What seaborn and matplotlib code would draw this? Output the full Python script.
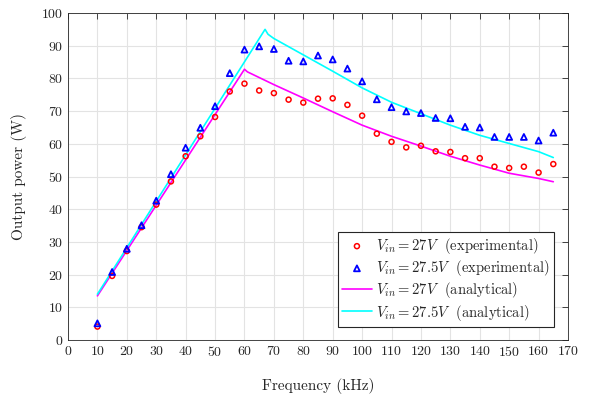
import matplotlib
matplotlib.use("Agg")
import matplotlib.pyplot as plt
import numpy as np
import pandas as pd
import seaborn as sns

freq_exp = [10, 15, 20, 25, 30, 35, 40, 45, 50, 55, 60, 65, 70, 75, 80, 85, 90,
            95, 100, 105, 110, 115, 120, 125, 130, 135, 140, 145, 150, 155, 160, 165]
p27_exp = [4.1, 19.6, 27.2, 34.5, 41.4, 48.5, 56.2, 62.3, 68.2, 76.0, 78.4, 76.3,
           75.5, 73.5, 72.6, 73.8, 73.9, 71.9, 68.6, 63.1, 60.6, 58.9, 59.4, 57.7,
           57.5, 55.6, 55.6, 53.0, 52.6, 53.0, 51.2, 53.8]
p275_exp = [5.1, 20.8, 27.9, 35.1, 42.6, 50.7, 58.8, 64.9, 71.5, 81.6, 88.8, 89.8,
            89.0, 85.4, 85.2, 87.0, 85.8, 83.0, 79.1, 73.6, 71.2, 69.9, 69.4, 67.9,
            67.8, 65.2, 65.0, 62.1, 62.1, 62.1, 61.0, 63.4]

# 해석 결과 곡선
freq_a27 = [10, 60, 61, 70, 80, 90, 100, 110, 120, 130, 140, 150, 160, 165]
p27_ana = [13.5, 82.8, 82.0, 78.1, 74.0, 69.8, 65.7, 62.3, 59.3, 56.2, 53.5,
           51.0, 49.4, 48.4]
freq_a275 = [10, 67, 68, 70, 80, 90, 100, 110, 120, 130, 140, 150, 160, 165]
p275_ana = [14.0, 95.0, 93.5, 92.2, 87.2, 82.2, 77.1, 72.7, 69.2, 65.7, 62.6,
            60.1, 57.6, 55.8]

sns.set_style("white")
plt.rcParams["font.family"] = ["cmr10", "DejaVu Serif"]
plt.rcParams["mathtext.fontset"] = "cm"
plt.rcParams["axes.formatter.use_mathtext"] = True
plt.rcParams["xtick.direction"] = "in"
plt.rcParams["ytick.direction"] = "in"

fig = plt.figure(figsize=(5.93, 3.99), dpi=100)
ax = fig.add_axes([68 / 593, 1 - 340 / 399, 500 / 593, 327 / 399])

ax.grid(True, color="#e3e3e3", linewidth=0.8)
ax.set_axisbelow(True)

sns.scatterplot(x=freq_exp, y=p27_exp, ax=ax, marker="o", s=13,
                facecolors="none", edgecolor="red", linewidth=1.1,
                label=r"$V_{in}=27V$  (experimental)", zorder=3)
sns.scatterplot(x=freq_exp, y=p275_exp, ax=ax, marker="^", s=18,
                facecolors="none", edgecolor="blue", linewidth=1.3,
                label=r"$V_{in}=27.5V$  (experimental)", zorder=3)
sns.lineplot(x=freq_a27, y=p27_ana, ax=ax, color="#ff00ff", linewidth=1.2,
             label=r"$V_{in}=27V$  (analytical)", estimator=None, sort=False)
sns.lineplot(x=freq_a275, y=p275_ana, ax=ax, color="#00ffff", linewidth=1.2,
             label=r"$V_{in}=27.5V$  (analytical)", estimator=None, sort=False)

ax.set_xlim(0, 170)
ax.set_ylim(0, 100)
ax.set_xticks(np.arange(0, 171, 10))
ax.set_yticks(np.arange(0, 101, 10))
ax.tick_params(labelsize=10, top=True, right=True, length=4, width=0.6, colors="#262626")
for sp in ax.spines.values():
    sp.set_color("#262626")
    sp.set_linewidth(0.6)

ax.set_xlabel("Frequency (kHz)", fontsize=11, labelpad=14)
ax.set_ylabel("Output power (W)", fontsize=11, labelpad=10)

leg = ax.legend(loc="lower right", bbox_to_anchor=(0.972, 0.04), fontsize=10.5,
                frameon=True, fancybox=False, edgecolor="#262626", framealpha=1,
                handlelength=2.0, handletextpad=0.3, borderpad=0.3, labelspacing=0.15,
                borderaxespad=0)
leg.get_frame().set_linewidth(0.8)

fig.savefig("out.png", dpi=100)
